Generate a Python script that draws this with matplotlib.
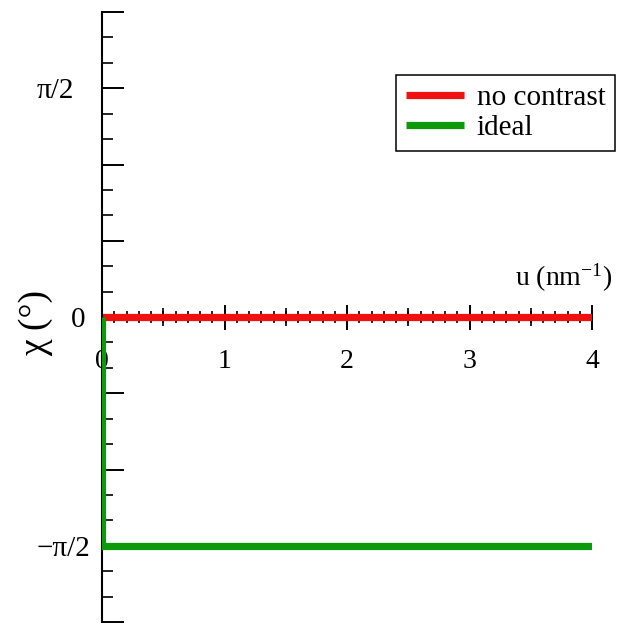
import numpy as np
import matplotlib; matplotlib.use("Agg")
import matplotlib.pyplot as plt
from matplotlib.ticker import MultipleLocator, FixedLocator
from matplotlib.transforms import ScaledTranslation

plt.rcParams["font.family"] = ["Liberation Serif", "DejaVu Serif"]
plt.rcParams["mathtext.fontset"] = "custom"
plt.rcParams["mathtext.rm"] = "Liberation Serif"
plt.rcParams["mathtext.it"] = "Liberation Serif:italic"

# phase chi(u): uncorrected (no contrast) vs ideal step to -pi/2
U_NOCON = [0.0, 4.0]
CHI_NOCON = [0.0, 0.0]
U_IDEAL = [0.0, 0.0, 4.0]
CHI_IDEAL = [0.0, -np.pi / 2, -np.pi / 2]

X_TICKS = [0, 1, 2, 3, 4]
X_HALF_TICKS = [0.5, 1.5, 2.5, 3.5]
Y_LABELED = {-np.pi / 2: "\u2212\u03c0/2", 0.0: "0", np.pi / 2: "\u03c0/2"}
# hand nudges (in px) of the labelled y ticks
Y_NUDGE = {-np.pi / 2: 8, 0.0: 3, np.pi / 2: -9}

RED = "#f01010"
GREEN = "#0a9a0a"

fig = plt.figure(figsize=(6.22, 6.23), dpi=100)
ax = fig.add_axes([102 / 622, 1 / 623, 490 / 622, 610 / 623])

ax.plot(U_NOCON, CHI_NOCON, color=RED, lw=5.2, solid_capstyle="butt", zorder=2, label="no contrast")
ax.plot(U_IDEAL, CHI_IDEAL, color=GREEN, lw=5.2, solid_capstyle="butt", solid_joinstyle="miter",
        zorder=3, label="ideal")

ax.set_xlim(0, 4)

for s in ["top", "right"]:
    ax.spines[s].set_visible(False)
# x axis sits at chi=0, hidden under the red line; only its ticks show
ax.spines["bottom"].set_position(("data", 0))
ax.spines["bottom"].set_linewidth(0)
ax.spines["left"].set_linewidth(1.5)

# x: integer majors, 0.1 minors, ticks crossing the axis
ax.xaxis.set_major_locator(FixedLocator(X_TICKS))
ax.xaxis.set_minor_locator(MultipleLocator(0.1))
ax.tick_params(axis="x", which="major", direction="inout", length=18, width=1.4,
               labelsize=20, pad=14)
ax.tick_params(axis="x", which="minor", direction="inout", length=9, width=1.2)

# y: pi/6 majors, pi/18 minors, labels only at 0 and +-pi/2
yt = np.arange(-4, 5) * np.pi / 6
ax.set_yticks(yt)
ax.set_yticklabels([next((lab for v, lab in Y_LABELED.items() if np.isclose(v, t)), "") for t in yt])
ax.yaxis.set_minor_locator(MultipleLocator(np.pi / 18))
ax.set_ylim(-2 * np.pi / 3, 2 * np.pi / 3)
ax.tick_params(axis="y", which="major", direction="in", length=16, width=1.4,
               labelsize=21, pad=14)
ax.tick_params(axis="y", which="minor", direction="in", length=8, width=1.2)

for t, lab in zip(yt, ax.get_yticklabels()):
    dx = next((d for v, d in Y_NUDGE.items() if np.isclose(v, t)), 0)
    lab.set_transform(lab.get_transform() + ScaledTranslation(dx / 100, 0, fig.dpi_scale_trans))

# slightly longer ticks at the half-integer positions
sec = ax.secondary_xaxis(0.5)
sec.set_xticks(X_HALF_TICKS)
sec.set_xticklabels([])
sec.spines["bottom"].set_visible(False)
sec.tick_params(axis="x", which="major", direction="inout", length=13, width=1.2)
sec.tick_params(axis="x", which="minor", length=0)

ax.set_ylabel("\u03c7 (\u00b0)", fontsize=27, va="center")
ax.yaxis.set_label_coords(-0.135, 0.49)
ax.text(3.37, 0.16, r"u (nm$^{\mathrm{-1}}$)", fontsize=20, ha="left", va="bottom")

leg = fig.legend(loc="upper right", bbox_to_anchor=(615 / 622, 1 - 75 / 623), fontsize=21,
                 handlelength=2.0, handletextpad=0.42, labelspacing=0.12, borderpad=0.33,
                 borderaxespad=0, fancybox=False, framealpha=1, edgecolor="black")
leg.get_frame().set_linewidth(1.1)

fig.savefig("out.png", dpi=100)
